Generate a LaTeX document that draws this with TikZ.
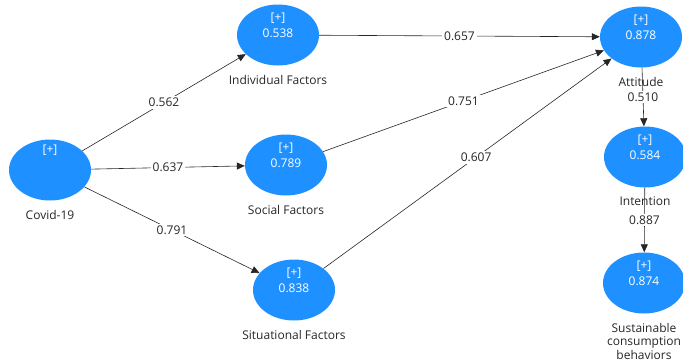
\documentclass[tikz,border=0pt]{standalone}
\usepackage{fontspec}
\setmainfont{Open Sans}
\usetikzlibrary{shapes.geometric,positioning,arrows.meta}

\definecolor{plsblue}{RGB}{30,144,255}

\tikzset{
  construct/.style={ellipse, fill=plsblue, minimum width=82pt, minimum height=61pt, inner sep=0pt},
  cval/.style={text=white, align=center, inner sep=0pt, font=\fontsize{12}{16}\selectfont, yshift=10pt},
  cname/.style={align=center, inner sep=0pt, text=black!85, font=\fontsize{12}{13.5}\selectfont},
  path/.style={draw=black!85, line width=0.6pt, -{Triangle[length=8pt,width=7pt]}},
  coef/.style={fill=white, inner sep=2pt, text=black!85, font=\fontsize{12}{13}\selectfont}
}

\begin{document}
\begin{tikzpicture}[x=1pt, y=-1pt]
  \useasboundingbox (0,0) rectangle (683,360);

  % constructs
  \node[construct] (covid) at (50,170) {};
  \node[construct] (indiv) at (278,35) {};
  \node[construct] (social) at (286,165) {};
  \node[construct] (situ) at (294,290) {};
  \node[construct] (att) at (641,37) {};
  \node[construct] (int) at (645,157) {};
  \node[construct] (scb) at (644,283) {};

  % r-square values
  \node[cval, yshift=10pt] (covid-v) at (covid) {[+]};
  \node[cval] (indiv-v) at (indiv) {[+]\\0.538};
  \node[cval] (social-v) at (social) {[+]\\0.789};
  \node[cval] (situ-v) at (situ) {[+]\\0.838};
  \node[cval] (att-v) at (att) {[+]\\0.878};
  \node[cval] (int-v) at (int) {[+]\\0.584};
  \node[cval] (scb-v) at (scb) {[+]\\0.874};

  % paths
  \draw[path] (covid) -- (indiv) node[coef, midway] (p1) {0.562};
  \draw[path] (covid) -- (social) node[coef, midway] (p2) {0.637};
  \draw[path] (covid) -- (situ) node[coef, midway] (p3) {0.791};
  \draw[path] (indiv) -- (att) node[coef, midway] (p4) {0.657};
  \draw[path] (social) -- (att) node[coef, midway] (p5) {0.751};
  \draw[path] (situ) -- (att) node[coef, pos=0.53] (p6) {0.607};
  \draw[path] (att) -- (int) node[coef, midway] (p7) {0.510};
  \draw[path] (int) -- (scb) node[coef, midway] (p8) {0.887};

  % names
  \node[cname, below=9pt of covid] (covid-n) {Covid-19};
  \node[cname, below=9pt of indiv] (indiv-n) {Individual Factors};
  \node[cname, below=9pt of social] (social-n) {Social Factors};
  \node[cname, below=9pt of situ] (situ-n) {Situational Factors};
  \node[cname, below=9pt of att] (att-n) {Attitude};
  \node[cname, below=9pt of int] (int-n) {Intention};
  \node[cname, below=9pt of scb] (scb-n) {Sustainable\\consumption\\behaviors};
\end{tikzpicture}
\end{document}
